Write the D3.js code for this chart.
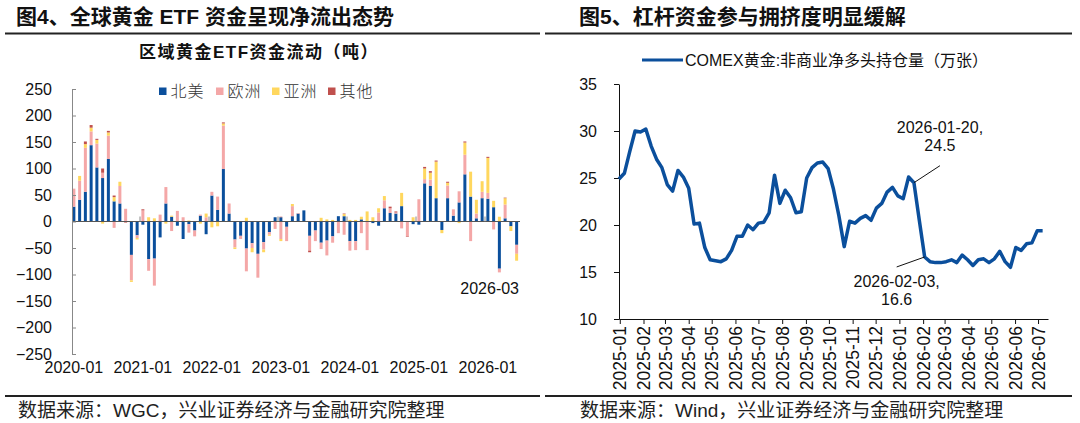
<!DOCTYPE html>
<html>
<head>
<meta charset="utf-8">
<script src="https://cdn.jsdelivr.net/npm/d3@7"></script>
<style>
  body { margin: 0; background: #fff; }
  svg { display: block; font-family: "Liberation Sans", Arial, "Noto Sans CJK SC", sans-serif; }
</style>
</head>
<body>
<svg id="chart" width="1080" height="423"></svg>
<script>
// ---- left chart data: monthly regional gold ETF flows (tonnes) ----
const monthStart = new Date(2020, 0, 1);
const monthEnd = new Date(2026, 6, 1);
const months = d3.timeMonths(monthStart, monthEnd).map(d3.timeFormat('%Y-%m'));
const regions = ['北美', '欧洲', '亚洲', '其他'];
const northAmerica = [28, 41, 56, 144, 102, 82, 118, 38, 34, 0,
  -63, -26, -6, -71, -70, -30, 34, 9, -8, -33,
  -5, -17, 11, -24, 49, 22, 99, 15, -34, -27,
  -51, -41, -61, -39, -20, 8, 8, -10, 10, 15,
  21, -27, -17, -40, -36, -28, 10, 10, -37, -37,
  4, 0, -3, -8, 25, 16, 15, 29, 0, -5,
  -6, 72, 67, 44, -16, 44, 11, 36, 89, 47,
  6, 44, 43, 27, -89, 6, -9, -44];
const europe = [34, 36, 83, 26, 45, 10, 44, -12, 33, 24,
  -48, -5, 21, -22, -51, 13, 31, -18, 20, 8,
  -16, -11, 2, 8, 7, 25, 82, 19, -15, -6,
  -43, -9, -45, -14, -5, -14, -33, -27, 19, 1,
  0, -28, -20, -12, -28, -12, -22, -25, -18, -17,
  -22, -54, 0, 17, 15, 9, 2, -13, -28, 0,
  42, 8, 12, 0, 0, 24, 12, 21, 37, -37,
  9, 12, 11, -15, -7, 26, 0, -17];
const asia = [0, 9, 7, 7, 7, -4, 6, 8, 8, 0,
  -3, -3, 0, 8, 6, 0, -4, 2, 0, 0,
  2, 0, -4, 7, -11, -9, 4, 0, -3, 0,
  7, -8, 0, -5, -2, 0, -4, 0, 4, 0,
  0, 0, 0, 7, 4, 3, 0, 4, 3, 3,
  5, 19, 8, 8, 8, 0, 0, 25, 0, 8,
  0, 20, 13, 69, -6, 5, 0, -3, 23, 47,
  26, 20, 66, 12, 9, 12, -9, -13];
const other = [0, 0, 5, 5, 2, 8, 3, 3, 0, -2,
  0, 0, 2, 0, 0, 0, 0, 0, 0, 0,
  0, 0, 0, 0, 0, 0, 2, 0, 0, 0,
  0, 0, 0, 0, 0, 0, 1, 0, 0, 0,
  0, -3, 0, 0, 0, 0, 0, 1, 0, 0,
  0, 0, 0, 0, 0, 3, 2, 0, -1, 0,
  0, 3, 3, 2, 0, 2, 0, 0, 2, 0,
  0, 0, 2, 0, 0, 1, 0, 0];
const flowTicks = [250, 200, 150, 100, 50, 0, -50, -100, -150, -200, -250];
const yearLabels = ['2020-01', '2021-01', '2022-01', '2023-01', '2024-01', '2025-01', '2026-01'];

// ---- right chart data: COMEX non-commercial net long (10k contracts), weekly ----
const weekStart = new Date(2024, 11, 31);
const weekEnd = new Date(2026, 6, 15);
const weeks = d3.timeTuesday.range(weekStart, weekEnd);
const netLong = [24.9, 25.5, 27.8, 30.0, 29.9, 30.2, 28.4, 27.0, 26.1, 24.3,
  23.6, 25.8, 25.1, 23.9, 20.1, 20.2, 17.6, 16.3, 16.2, 16.1,
  16.4, 17.3, 18.8, 18.8, 20.0, 19.5, 20.2, 20.3, 21.3, 25.3,
  22.3, 23.7, 22.9, 21.3, 21.4, 25.0, 26.1, 26.6, 26.7, 26.0,
  23.8, 21.0, 17.7, 20.4, 20.2, 20.7, 21.0, 20.5, 21.8, 22.3,
  23.5, 24.0, 23.1, 22.8, 25.1, 24.5, 20.5, 16.6, 16.1, 16.0,
  16.0, 16.1, 16.3, 16.0, 16.8, 16.3, 15.7, 16.3, 16.4, 16.0,
  16.4, 17.2, 16.1, 15.5, 17.6, 17.3, 18.0, 18.1, 19.4, 19.4];
const netLongTicks = [10, 15, 20, 25, 30, 35];
const callouts = [
  { date: new Date(2026, 0, 20), lines: ['2026-01-20,', '24.5'], dx: 26, dy: -17 },
  { date: new Date(2026, 1, 3), lines: ['2026-02-03,', '16.6'], dx: -28, dy: 10 }
];

const colors = { '北美': '#0b4f9c', '欧洲': '#f4a7a7', '亚洲': '#ffd75e', '其他': '#c0504d' };
const lineBlue = '#0b4f9c';

const svg = d3.select('#chart');
svg.append('rect').attr('width', 1080).attr('height', 423).attr('fill', '#fff');

// headers
function header(x, y, text, x1, x2) {
    svg.append('text').attr('x', x).attr('y', y).attr('dy', '0.35em')
        .attr('font-size', 21).attr('font-weight', 'bold').attr('fill', '#111')
        .text(text);
    svg.append('line').attr('x1', x1).attr('x2', x2).attr('y1', 33.5).attr('y2', 33.5)
        .attr('stroke', '#222').attr('stroke-width', 2);
    svg.append('line').attr('x1', x1).attr('x2', x2).attr('y1', 396).attr('y2', 396)
        .attr('stroke', '#222').attr('stroke-width', 2);
}
header(16, 17, '图4、全球黄金 ETF 资金呈现净流出态势', 5, 540);
header(579, 17, '图5、杠杆资金参与拥挤度明显缓解', 545, 1072);

svg.append('text').attr('x', 18).attr('y', 410).attr('dy', '0.35em')
    .attr('font-size', 19).attr('fill', '#222').text('数据来源：WGC，兴业证券经济与金融研究院整理');
svg.append('text').attr('x', 580).attr('y', 410).attr('dy', '0.35em')
    .attr('font-size', 19).attr('fill', '#222').text('数据来源：Wind，兴业证券经济与金融研究院整理');

// ================= left chart =================
const rows = months.map(function (m, i) {
    return { month: m, '北美': northAmerica[i], '欧洲': europe[i], '亚洲': asia[i], '其他': other[i] };
});
const stacked = d3.stack().keys(regions).offset(d3.stackOffsetDiverging)(rows);

const xFlow = d3.scaleBand().domain(months).range([71, 519.5]).paddingInner(0.48).paddingOuter(0.24);
const yFlow = d3.scaleLinear().domain([-250, 250]).range([354, 89]);

svg.append('text').attr('x', 259).attr('y', 52).attr('dy', '0.35em')
    .attr('text-anchor', 'middle').attr('font-size', 17).attr('font-weight', 'bold')
    .attr('letter-spacing', 1.5).attr('fill', '#111')
    .text('区域黄金ETF资金流动（吨）');

const gBars = svg.append('g');
gBars.selectAll('g.series')
    .data(stacked)
    .join('g')
    .attr('class', 'series')
    .attr('fill', function (s) { return colors[s.key]; })
    .selectAll('rect')
    .data(function (s) { return s; })
    .join('rect')
    .attr('x', function (d) { return xFlow(d.data.month); })
    .attr('width', xFlow.bandwidth())
    .attr('y', function (d) { return yFlow(Math.max(d[0], d[1])); })
    .attr('height', function (d) { return Math.abs(yFlow(d[0]) - yFlow(d[1])); });

// zero line and year ticks
svg.append('line').attr('x1', 72).attr('x2', 520)
    .attr('y1', yFlow(0)).attr('y2', yFlow(0))
    .attr('stroke', '#555').attr('stroke-width', 1.2);
svg.append('g').selectAll('line')
    .data(yearLabels.slice(1))
    .join('line')
    .attr('x1', function (m) { return xFlow(m) + xFlow.bandwidth() / 2 - xFlow.step() / 2; })
    .attr('x2', function (m) { return xFlow(m) + xFlow.bandwidth() / 2 - xFlow.step() / 2; })
    .attr('y1', yFlow(0)).attr('y2', yFlow(0) - 5)
    .attr('stroke', '#888').attr('stroke-width', 1);

const yFlowAxis = d3.axisLeft(yFlow).tickValues(flowTicks).tickSizeInner(-4).tickSizeOuter(0).tickPadding(20);
const gyFlow = svg.append('g').attr('transform', 'translate(72,0)').call(yFlowAxis);
gyFlow.selectAll('path, line').attr('stroke', '#888');
gyFlow.selectAll('text').attr('font-size', 16).attr('fill', '#111')
    .attr('font-family', '"Liberation Sans", Arial, sans-serif');

const xFlowAxis = d3.axisBottom(xFlow).tickValues(yearLabels).tickSize(0).tickPadding(0);
const gxFlow = svg.append('g').attr('transform', 'translate(0,367)').call(xFlowAxis);
gxFlow.select('.domain').remove();
gxFlow.selectAll('text').attr('font-size', 16).attr('fill', '#111').attr('dy', '0.35em')
    .attr('font-family', '"Liberation Sans", Arial, sans-serif');

svg.append('text').attr('x', 519).attr('y', 288).attr('dy', '0.35em')
    .attr('text-anchor', 'end').attr('font-size', 16).attr('fill', '#111')
    .text('2026-03');

// legend
const legendX = [159, 216, 272, 328];
const gLeg = svg.append('g');
regions.forEach(function (r, i) {
    gLeg.append('rect').attr('x', legendX[i]).attr('y', 87.5).attr('width', 7.5).attr('height', 7.5)
        .attr('fill', colors[r]);
    gLeg.append('text').attr('x', legendX[i] + 11.5).attr('y', 91).attr('dy', '0.35em')
        .attr('font-size', 16).attr('fill', '#333').attr('letter-spacing', 1)
        .attr('font-family', '"Noto Sans CJK SC", sans-serif').attr('font-weight', 300)
        .text(r);
});

// ================= right chart =================
const xPos = d3.scaleTime().domain([weekStart, weeks[weeks.length - 1]]).range([619, 1048]);
const yPos = d3.scaleLinear().domain([10, 35]).range([319, 84]);

svg.append('line').attr('x1', 642).attr('x2', 683).attr('y1', 60).attr('y2', 60)
    .attr('stroke', lineBlue).attr('stroke-width', 3);
svg.append('text').attr('x', 685).attr('y', 60).attr('dy', '0.35em')
    .attr('font-size', 16).attr('fill', '#111')
    .text('COMEX黄金:非商业净多头持仓量（万张）');

const yPosAxis = d3.axisLeft(yPos).tickValues(netLongTicks).tickSizeInner(5).tickSizeOuter(0).tickPadding(17);
const gyPos = svg.append('g').attr('transform', 'translate(619,0)').call(yPosAxis);
gyPos.selectAll('path, line').attr('stroke', '#111');
gyPos.selectAll('text').attr('font-size', 16).attr('fill', '#111')
    .attr('font-family', '"Liberation Sans", Arial, sans-serif');

const monthTicks = d3.timeMonths(new Date(2025, 0, 1), new Date(2026, 6, 2));
const xPosAxis = d3.axisBottom(xPos).tickValues(monthTicks).tickFormat(d3.timeFormat('%Y-%m'))
    .tickSizeInner(5).tickSizeOuter(0);
const gxPos = svg.append('g').attr('transform', 'translate(0,319)').call(xPosAxis);
gxPos.selectAll('path, line').attr('stroke', '#111');
gxPos.selectAll('text')
    .attr('font-size', 17.5).attr('fill', '#111')
    .attr('font-family', '"Liberation Sans", Arial, sans-serif')
    .attr('transform', 'rotate(-90)')
    .attr('text-anchor', 'end')
    .attr('x', -7).attr('y', 0).attr('dy', '0.35em');

const posLine = d3.line()
    .x(function (d, i) { return xPos(weeks[i]); })
    .y(function (d) { return yPos(d); });
svg.append('path').datum(netLong)
    .attr('d', posLine)
    .attr('fill', 'none').attr('stroke', lineBlue).attr('stroke-width', 3.5)
    .attr('stroke-linejoin', 'round');

// callouts
callouts.forEach(function (c) {
    const idx = weeks.findIndex(function (w) { return +w === +c.date; });
    const px = xPos(weeks[idx]);
    const py = yPos(netLong[idx]);
    svg.append('line').attr('x1', px).attr('y1', py).attr('x2', px + c.dx).attr('y2', py + c.dy)
        .attr('stroke', '#111').attr('stroke-width', 1);
    const tx = px + c.dx;
    const ty = c.dy < 0 ? py + c.dy - 38 : py + c.dy + 14;
    c.lines.forEach(function (t, k) {
        svg.append('text').attr('x', tx).attr('y', ty + k * 18).attr('dy', '0.35em')
            .attr('text-anchor', 'middle').attr('font-size', 16).attr('fill', '#111')
            .text(t);
    });
});
</script>
</body>
</html>
